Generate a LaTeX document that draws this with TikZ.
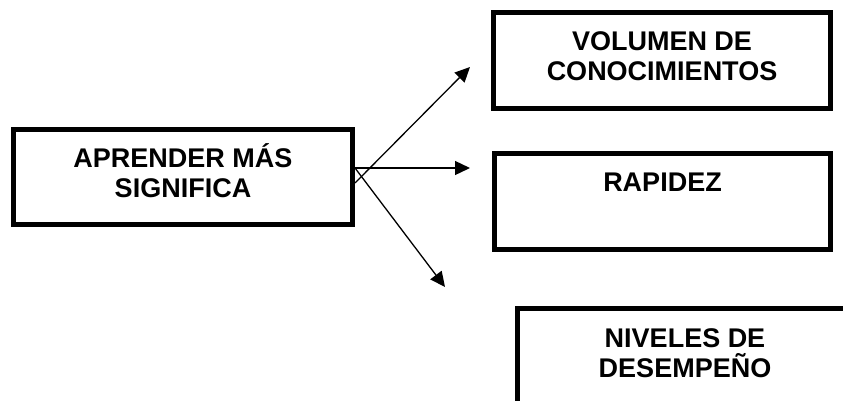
\documentclass[tikz,border=0pt]{standalone}
\usepackage{fontspec}
\setmainfont{Liberation Sans}
\usetikzlibrary{arrows.meta,positioning}

\newcommand{\lineas}[2]{\rule{0pt}{24pt}#1\\#2\rule[-14pt]{0pt}{14pt}}

\tikzset{
  caja/.style={draw,line width=5pt,align=center,inner sep=0pt,
    font=\bfseries\fontsize{27}{30}\selectfont},
}

\begin{document}
\begin{tikzpicture}[x=1pt,y=-1pt,->,>={Triangle[length=15pt,width=14pt]},line width=1.3pt]
  \clip (0,0) rectangle (843,400);
  \node[caja,minimum width=339pt,minimum height=95pt] (A) at (183,177) {\lineas{APRENDER MÁS}{SIGNIFICA}};
  \node[caja,minimum width=337pt,minimum height=96pt] (V) at (662,60.5) {\lineas{VOLUMEN DE}{CONOCIMIENTOS}};
  \node[caja,minimum width=336pt,minimum height=96pt] (R) at (662.5,201.5) {\lineas{RAPIDEZ}{}};
  \node[caja,minimum width=335pt,minimum height=97pt] (N) at (685,357) {\lineas{NIVELES DE}{DESEMPEÑO}};

  \coordinate (pV) at (470,67);
  \coordinate (pR) at (470,168);
  \coordinate (pN) at (445,287);

  \path
  ([yshift=-6pt]A.east) edge (pV)
  ([yshift=9pt]A.east) edge (pR)
  ([yshift=9pt]A.east) edge (pN)
  ;
\end{tikzpicture}
\end{document}
